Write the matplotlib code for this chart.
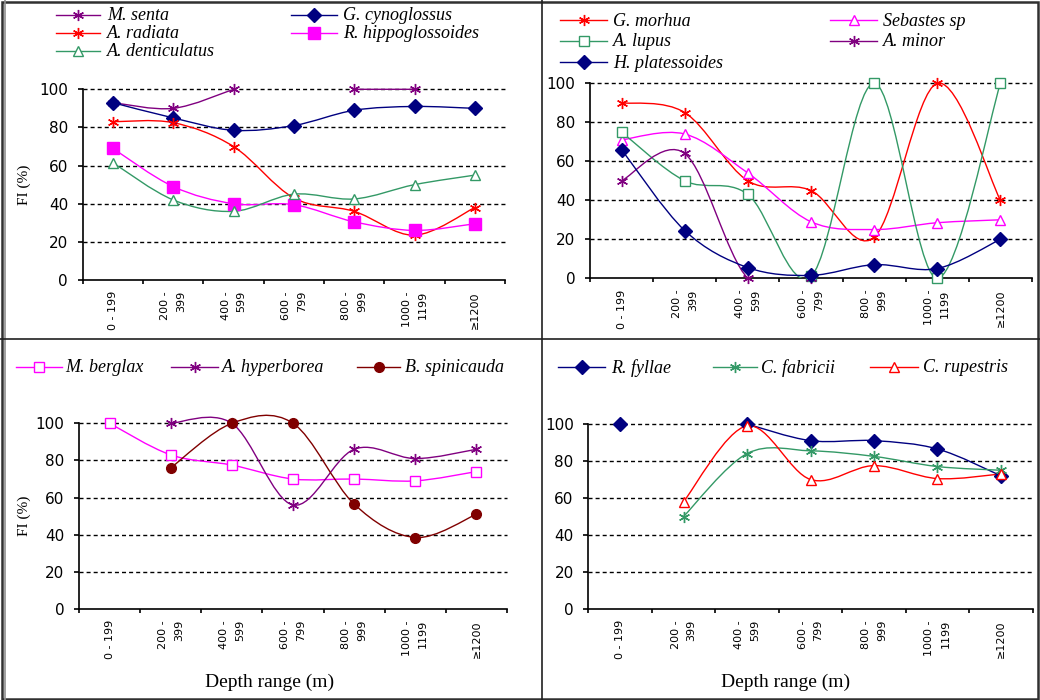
import numpy as np
import matplotlib
matplotlib.use("Agg")
import matplotlib.pyplot as plt
from matplotlib.path import Path
from matplotlib.patches import PathPatch, Rectangle
from matplotlib.lines import Line2D

nan = np.nan

# Depth classes (x categories)
depth_labels = ["0 - 199", "200 -\n399", "400 -\n599", "600 -\n799",
                "800 -\n999", "1000 -\n1199", "\u22651200"]

# Panel A
m_senta = [93, 90, 100, nan, 100, 100, nan]
g_cynoglossus = [93, 85, 78.5, 81, 89, 91, 90]
a_radiata = [83, 82.5, 70, 43, 36, 23.5, 38]
r_hippoglossoides = [69, 49, 40, 39.5, 30.5, 26, 29.5]
a_denticulatus = [61.5, 42, 36, 45, 42.5, 50, 55]

# Panel B
g_morhua = [90, 85, 50, 45, 21, 100, 40]
sebastes_sp = [71, 74, 54, 29, 25, 28.5, 30]
a_lupus = [75, 50, 43, 1, 100, 0, 100]
a_minor = [50, 64, 0, 0, nan, nan, nan]
h_platessoides = [66, 24.5, 5.5, 1.5, 7, 5, 20]

# Panel C
m_berglax = [100, 83, 77.5, 70, 70, 69, 74]
a_hyperborea = [nan, 100, 100, 56, 86, 81, 86]
b_spinicauda = [nan, 76, 100, 100, 56.5, 38.5, 51]

# Panel D
r_fyllae = [100, nan, 100, 91, 91, 86.5, 72]
c_fabricii = [nan, 50, 84, 85.5, 82.5, 77, 75]
c_rupestris = [nan, 58, 99, 70, 77.5, 70.5, 73]

PURPLE = "#800080"
NAVY = "#000080"
RED = "#FF0000"
MAGENTA = "#FF00FF"
GREEN = "#339966"
MAROON = "#800000"
ASTER = (6, 2, 0)

W, H = 1040, 700
fig = plt.figure(figsize=(W / 100, H / 100), dpi=100)
fig.patch.set_facecolor("white")

SERIF = "Liberation Serif"
SANS = "DejaVu Sans"


def px_axes(x0, x1, y100, y0):
    return fig.add_axes([x0 / W, 1 - y0 / H, (x1 - x0) / W, (y0 - y100) / H])


def smooth_path(xs, ys):
    pts = np.column_stack([xs, ys]).astype(float)
    n = len(pts)
    verts = [pts[0]]
    codes = [Path.MOVETO]
    for i in range(n - 1):
        p0 = pts[i - 1] if i > 0 else pts[i]
        p1 = pts[i]
        p2 = pts[i + 1]
        p3 = pts[i + 2] if i + 2 < n else pts[i + 1]
        c1 = p1 + (p2 - p0) / 6.0
        c2 = p2 - (p3 - p1) / 6.0
        verts += [c1, c2, p2]
        codes += [Path.CURVE4] * 3
    return Path(verts, codes)


def draw_series(ax, values, color, marker, ms, face):
    vals = np.asarray(values, dtype=float)
    xs = np.arange(len(vals)) + 0.5
    ok = ~np.isnan(vals)
    clip = Rectangle((0, 0), 1, 1.3, transform=ax.transAxes)
    # split into runs of consecutive values
    runs, cur = [], []
    for i in range(len(vals)):
        if ok[i]:
            cur.append(i)
        else:
            if cur:
                runs.append(cur)
            cur = []
    if cur:
        runs.append(cur)
    for r in runs:
        if len(r) > 1:
            patch = PathPatch(smooth_path(xs[r], vals[r]), fill=False,
                              edgecolor=color, lw=1.0, zorder=3)
            ax.add_patch(patch)
            patch.set_clip_path(clip)
    ax.plot(xs[ok], vals[ok], linestyle="none", marker=marker, ms=ms,
            mfc=face, mec=color, mew=1.0, color=color, zorder=4,
            clip_on=False)


def style_axes(ax):
    ax.set_xlim(0, 7)
    ax.set_ylim(0, 100)
    for s in ["top", "right"]:
        ax.spines[s].set_visible(False)
    for s in ["left", "bottom"]:
        ax.spines[s].set_linewidth(1.2)
        ax.spines[s].set_color("black")
    ax.set_yticks([0, 20, 40, 60, 80, 100])
    ax.set_yticklabels(["0", "20", "40", "60", "80", "100"],
                       fontsize=11, family=SANS)
    ax.tick_params(axis="y", direction="out", length=3.5, width=1.2,
                   pad=7)
    ax.set_xticks(np.arange(8))
    ax.set_xticklabels([])
    ax.tick_params(axis="x", which="major", direction="out", length=3,
                   width=1.2)
    ax.set_xticks(np.arange(7) + 0.5, minor=True)
    ax.set_xticklabels(depth_labels, minor=True, rotation=90, fontsize=8,
                       family=SANS, va="top", ha="center",
                       multialignment="right", linespacing=1.75)
    ax.tick_params(axis="x", which="minor", length=0, pad=8)
    for y in [20, 40, 60, 80, 100]:
        ax.axhline(y, color="black", lw=1.0, linestyle=(0, (2.9, 2.2)),
                   zorder=1, clip_on=False)
    ax.set_facecolor("none")


def legend_entry(x0, x1, y, label, color, marker, ms, face, tx):
    fy = 1 - y / H
    fig.add_artist(Line2D([x0 / W, x1 / W], [fy, fy], color=color, lw=1.0,
                          transform=fig.transFigure))
    fig.add_artist(Line2D([(x0 + x1) / 2 / W], [fy], linestyle="none",
                          marker=marker, ms=ms, mfc=face, mec=color,
                          mew=1.0, transform=fig.transFigure))
    fig.text(tx / W, 1 - (y + 1) / H, label, fontsize=13, family=SERIF,
             style="italic", va="center", ha="left")


# ---- Panel A
axA = px_axes(82.7, 505, 89.3, 280)
style_axes(axA)
draw_series(axA, m_senta, PURPLE, ASTER, 8, PURPLE)
draw_series(axA, g_cynoglossus, NAVY, "D", 7, NAVY)
draw_series(axA, a_radiata, RED, ASTER, 8, RED)
draw_series(axA, r_hippoglossoides, MAGENTA, "s", 8, MAGENTA)
draw_series(axA, a_denticulatus, GREEN, "^", 7, "white")
legend_entry(56, 100, 15, "M. senta", PURPLE, ASTER, 8, PURPLE, 107)
legend_entry(291, 337, 15, "G. cynoglossus", NAVY, "D", 7, NAVY, 343)
legend_entry(56, 100, 33, "A. radiata", RED, ASTER, 8, RED, 107)
legend_entry(291, 337, 33, "R. hippoglossoides", MAGENTA, "s", 8, MAGENTA, 343)
legend_entry(56, 100, 51, "A. denticulatus", GREEN, "^", 7, "white", 107)

# ---- Panel B
axB = px_axes(590, 1032, 83.3, 278.3)
style_axes(axB)
draw_series(axB, g_morhua, RED, ASTER, 8, RED)
draw_series(axB, sebastes_sp, MAGENTA, "^", 7, "white")
draw_series(axB, a_lupus, GREEN, "s", 7, "white")
draw_series(axB, a_minor, PURPLE, ASTER, 8, PURPLE)
draw_series(axB, h_platessoides, NAVY, "D", 7, NAVY)
legend_entry(560, 607, 20, "G. morhua", RED, ASTER, 8, RED, 613)
legend_entry(830, 877, 20, "Sebastes sp", MAGENTA, "^", 7, "white", 883)
legend_entry(560, 607, 41, "A. lupus", GREEN, "s", 7, "white", 613)
legend_entry(830, 877, 41, "A. minor", PURPLE, ASTER, 8, PURPLE, 883)
legend_entry(560, 607, 62, "H. platessoides", NAVY, "D", 7, NAVY, 613)

# ---- Panel C
axC = px_axes(79, 507, 423.3, 609)
style_axes(axC)
draw_series(axC, m_berglax, MAGENTA, "s", 7, "white")
draw_series(axC, a_hyperborea, PURPLE, ASTER, 8, PURPLE)
draw_series(axC, b_spinicauda, MAROON, "o", 7, MAROON)
legend_entry(16, 62, 366.7, "M. berglax", MAGENTA, "s", 7, "white", 65)
legend_entry(171, 218, 366.7, "A. hyperborea", PURPLE, ASTER, 8, PURPLE, 222)
legend_entry(357, 400, 366.7, "B. spinicauda", MAROON, "o", 7, MAROON, 405)

# ---- Panel D
axD = px_axes(588.3, 1032.7, 424, 609)
style_axes(axD)
draw_series(axD, r_fyllae, NAVY, "D", 7, NAVY)
draw_series(axD, c_fabricii, GREEN, ASTER, 8, GREEN)
draw_series(axD, c_rupestris, RED, "^", 7, "white")
legend_entry(558, 605, 366.7, "R. fyllae", NAVY, "D", 7, NAVY, 611)
legend_entry(713, 757, 366.7, "C. fabricii", GREEN, ASTER, 8, GREEN, 761)
legend_entry(870, 918, 366.7, "C. rupestris", RED, "^", 7, "white", 923)

# ---- Axis titles
for yc in (185, 516):
    fig.text(24 / W, 1 - yc / H, "FI (%)", rotation=90, fontsize=11,
             family=SERIF, va="center", ha="center")
for xc in (270, 786):
    fig.text(xc / W, 1 - 682 / H, "Depth range (m)", fontsize=14,
             family=SERIF, va="center", ha="center")

# ---- Frame and panel dividers
fig.add_artist(Rectangle((2 / W, 1.5 / H), (W - 4) / W, (H - 3.5) / H,
                         fill=False, edgecolor="#303030", lw=1.8,
                         transform=fig.transFigure))
fig.add_artist(Line2D([4.5 / W, 4.5 / W], [0, 1], color="#909090", lw=1.2,
                      transform=fig.transFigure))
fig.add_artist(Line2D([542.3 / W, 542.3 / W], [0, 1], color="#202020",
                      lw=1.2, transform=fig.transFigure))
fig.add_artist(Line2D([0, 1], [1 - 339 / H, 1 - 339 / H], color="#202020",
                      lw=1.2, transform=fig.transFigure))

fig.savefig("out.png", dpi=100, facecolor="white")
